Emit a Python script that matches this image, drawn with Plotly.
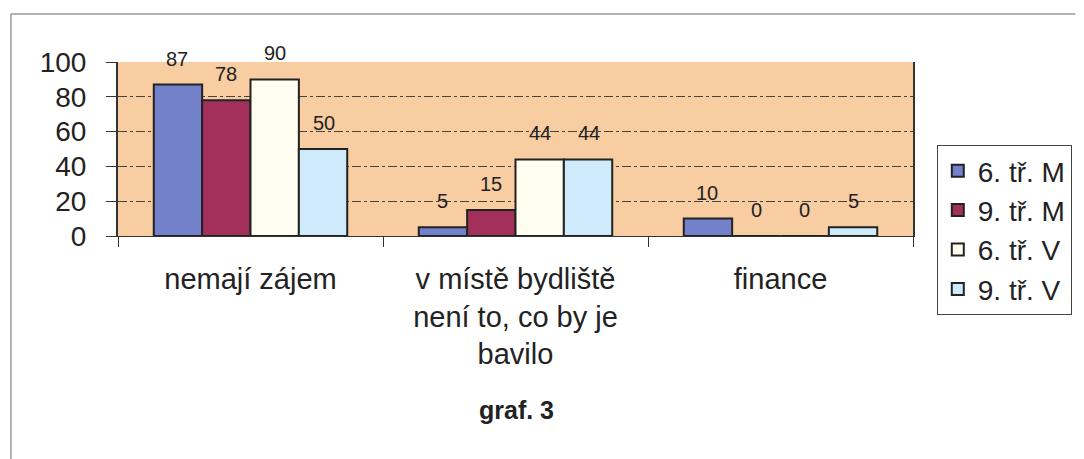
import plotly.graph_objects as go

categories = ["nemají zájem", "v místě bydliště<br>není to, co by je<br>bavilo", "finance"]
series_names = ["6. tř. M", "9. tř. M", "6. tř. V", "9. tř. V"]
s6M = [87, 5, 10]
s9M = [78, 15, 0]
s6V = [90, 44, 0]
s9V = [50, 44, 5]
y_ticks = [0, 20, 40, 60, 80, 100]

colors = ["#7381CB", "#A3305A", "#FFFEF0", "#CFEAFB"]
series_values = [s6M, s9M, s6V, s9V]

# page body has an 8px margin; coordinates below are page pixels minus 8
OFF = 8
L, R, T, B = 118 - OFF, 920 - OFF, 62 - OFF, 236 - OFF
W, H = 1084 - OFF, 459 - OFF
def px(x): return (x - OFF - L) / (R - L)
def py(y): return (B - (y - OFF)) / (B - T)

BARGAP = 0.27
cat_px = (R - L) / len(categories)
bar_px = cat_px * (1 - BARGAP) / len(series_names)

fig = go.Figure()
annotations = []
for i, (name, vals, col) in enumerate(zip(series_names, series_values, colors)):
    fig.add_trace(go.Bar(
        x=categories, y=vals, name=name,
        marker=dict(color=col, line=dict(color="#222222", width=2)),
        cliponaxis=False,
    ))
    for c, v in zip(categories, vals):
        annotations.append(dict(
            x=c, y=v, xref="x", yref="y", text=str(v), showarrow=False,
            xshift=(i - 1.5) * bar_px, yshift=26, yanchor="middle",
            font=dict(family="Arial", size=20, color="#222222")))

annotations.append(dict(text="<b>graf. 3</b>", x=px(520), y=py(410), xref="paper", yref="paper",
                        yanchor="middle", showarrow=False,
                        font=dict(family="Arial", size=25, color="#222222")))

fig.update_layout(
    width=W, height=H,
    margin=dict(l=L, r=W - R, t=T, b=H - B),
    paper_bgcolor="white", plot_bgcolor="#F8CDA2",
    barmode="group", bargap=BARGAP, bargroupgap=0,
    font=dict(family="Arial", color="#222222"),
    showlegend=True,
    legend=dict(x=px(944), y=py(145), xanchor="left", yanchor="top",
                bordercolor="#444444", borderwidth=1, bgcolor="white",
                font=dict(family="Arial", size=28, color="#222222"),
                tracegroupgap=0, itemwidth=30),
    xaxis=dict(tickson="boundaries", ticks="outside", ticklen=10, tickcolor="#333",
               showline=True, linecolor="#333", linewidth=1,
               tickfont=dict(family="Arial", size=29, color="#222222"),
               ticklabelstandoff=17, showgrid=False),
    yaxis=dict(range=[0, 100], tickvals=y_ticks, showline=True, linecolor="#333", linewidth=2,
               ticks="outside", ticklen=10, tickcolor="#333",
               tickfont=dict(family="Arial", size=28, color="#222222"),
               ticklabelstandoff=14,
               showgrid=True, gridcolor="#444", griddash="dashdot", gridwidth=1,
               mirror=True, zeroline=False),
    annotations=annotations,
    shapes=[
        dict(type="line", xref="paper", yref="paper", x0=px(10), x1=px(1084), y0=py(14), y1=py(14),
             line=dict(color="#999", width=1.5)),
        dict(type="line", xref="paper", yref="paper", x0=px(10), x1=px(10), y0=py(14), y1=py(459),
             line=dict(color="#999", width=1.5)),
    ],
)

fig.write_html("out.html")
